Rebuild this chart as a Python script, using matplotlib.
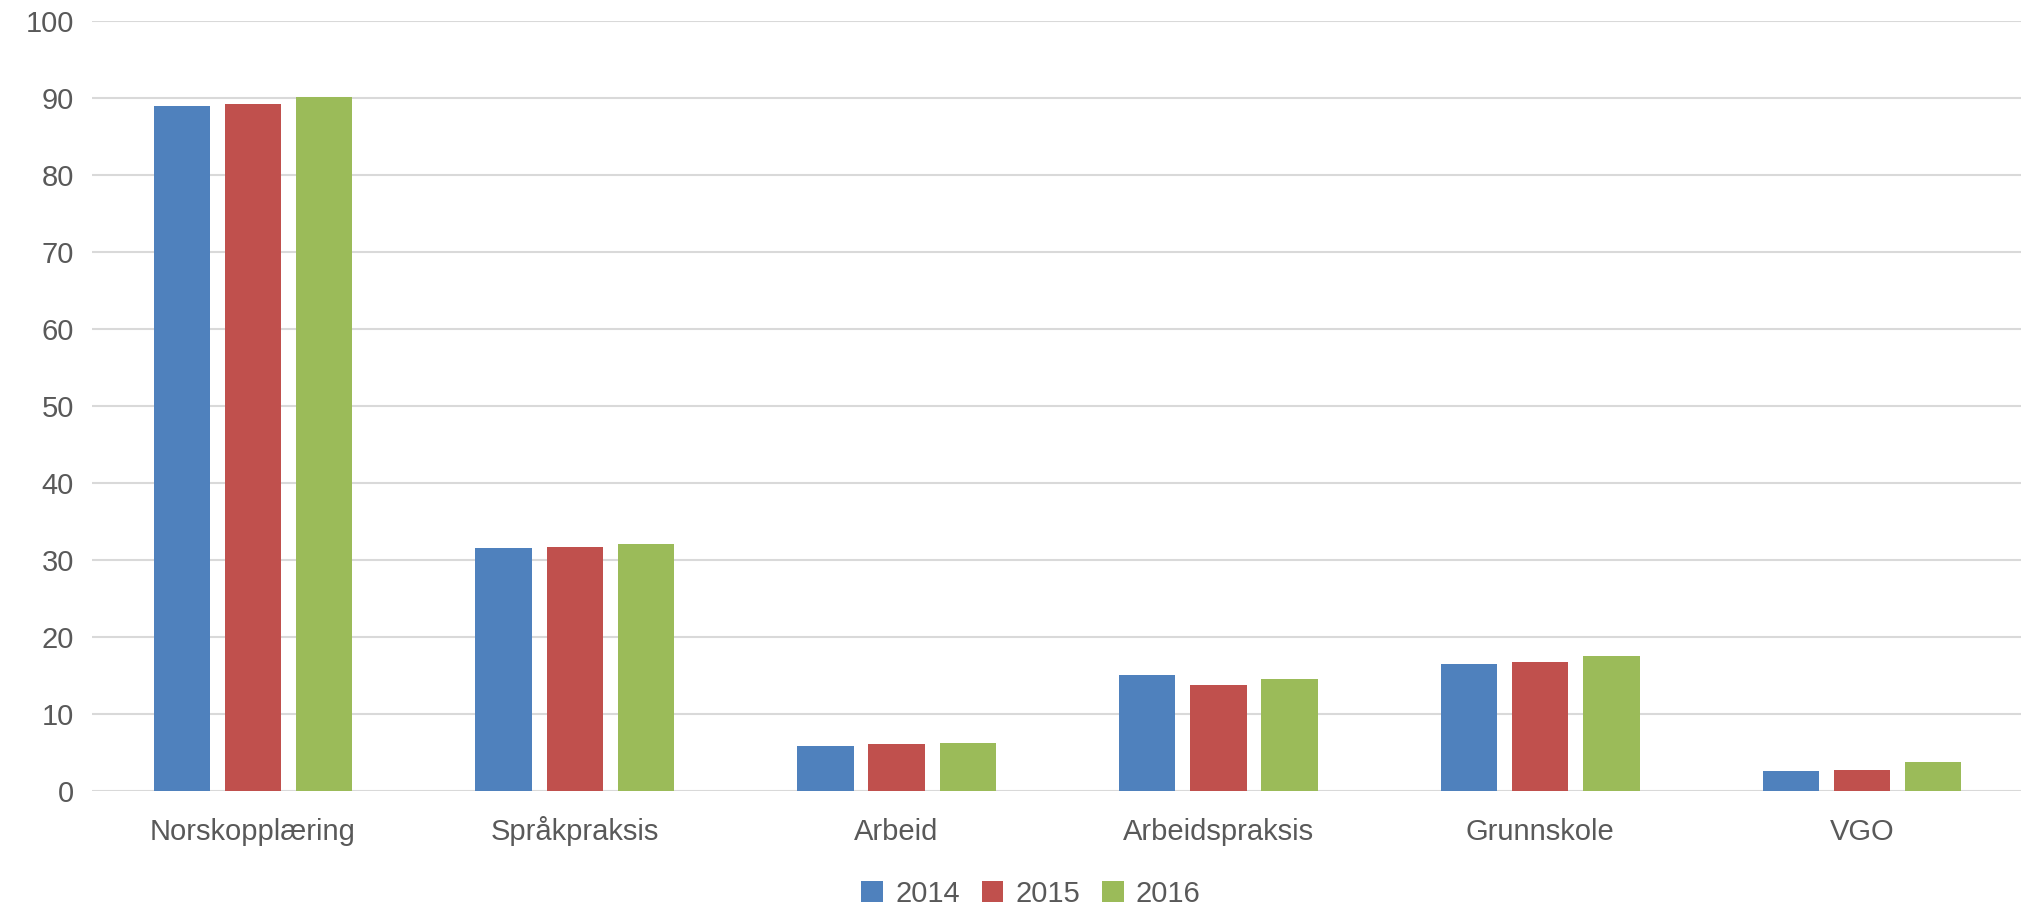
import matplotlib
matplotlib.use("Agg")
import matplotlib.pyplot as plt
import numpy as np

categories = ["Norskopplæring", "Språkpraksis", "Arbeid", "Arbeidspraksis", "Grunnskole", "VGO"]
years = ["2014", "2015", "2016"]
v2014 = [88.9, 31.6, 5.8, 15.0, 16.5, 2.6]
v2015 = [89.2, 31.7, 6.1, 13.8, 16.7, 2.7]
v2016 = [90.1, 32.1, 6.2, 14.5, 17.5, 3.8]
colors = ["#4F81BD", "#C0504D", "#9BBB59"]

plt.rcParams['font.family'] = ['Liberation Sans', 'DejaVu Sans']

fig = plt.figure(figsize=(20.21, 9.10), dpi=100)
ax = fig.add_axes([0.0455, 0.1308, 0.9555, 0.8462])

x = np.arange(len(categories))
w = 0.175
step = 0.221
for i, (vals, c, lab) in enumerate(zip([v2014, v2015, v2016], colors, years)):
    ax.bar(x + (i - 1) * step, vals, width=w, color=c, label=lab, zorder=3)

ax.set_xlim(-0.5, len(categories) - 0.5)
ax.set_ylim(0, 100)
ax.set_yticks(np.arange(0, 101, 10))
ax.set_xticks(x)
ax.set_xticklabels(categories)
ax.grid(axis='y', color='#D9D9D9', linewidth=1.5, zorder=0)
for s in ax.spines.values():
    s.set_visible(False)
ax.tick_params(axis='both', length=0, labelsize=21, labelcolor='#595959')
ax.tick_params(axis='y', pad=13)
ax.tick_params(axis='x', pad=35)
for lbl in ax.get_xticklabels():
    lbl.set_va('baseline')

leg = fig.legend(loc='center', bbox_to_anchor=(0.51, 0.018), ncol=3, frameon=False,
                 fontsize=21, handlelength=0.75, handleheight=0.75, handletextpad=0.4,
                 columnspacing=0.75, labelcolor='#595959')

fig.savefig("out.png", dpi=100)
